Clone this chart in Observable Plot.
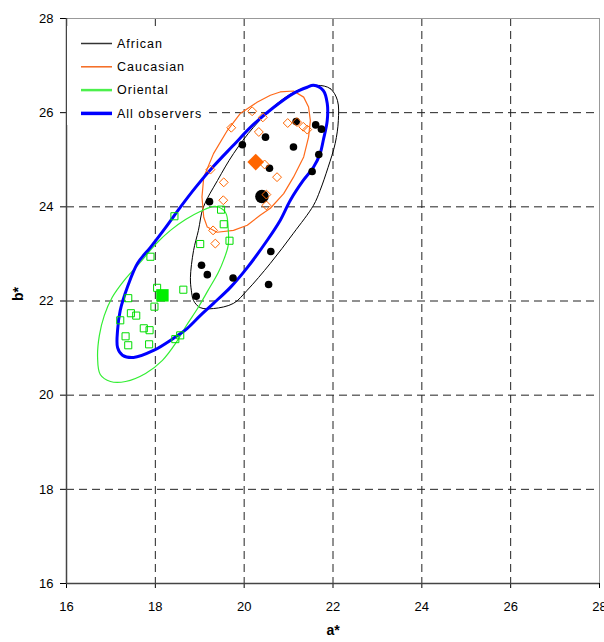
<!DOCTYPE html>
<html><head><meta charset="utf-8">
<script src="https://cdn.jsdelivr.net/npm/d3@7"></script>
<script src="https://cdn.jsdelivr.net/npm/@observablehq/plot@0.6"></script>
<style>body{margin:0;background:#fff} #chart{width:604px;height:642px}</style>
</head><body><div id="chart"></div>
<script>
// Axis ticks
const xTicks = [16, 18, 20, 22, 24, 26, 28];
const yTicks = [16, 18, 20, 22, 24, 26, 28];
const gridXValues = [18, 20, 22, 24, 26];
const gridYValues = [18, 20, 22, 24, 26];

// Individual observers (a*, b*)
const africanA = [21.17, 21.61, 21.74, 20.48, 19.96, 21.11, 21.68, 20.57, 21.53, 19.22, 20.60, 19.04, 19.17, 19.75, 20.55, 18.92];
const africanB = [25.81, 25.74, 25.65, 25.48, 25.32, 25.27, 25.11, 24.82, 24.75, 24.11, 23.05, 22.76, 22.56, 22.49, 22.35, 22.10];
const caucasianA = [20.18, 20.42, 19.71, 20.33, 20.98, 21.19, 21.33, 21.42, 19.24, 19.54, 20.46, 20.74, 20.50, 19.53, 20.50, 19.30, 19.35];
const caucasianB = [26.03, 25.90, 25.68, 25.59, 25.78, 25.80, 25.70, 25.64, 24.79, 24.52, 24.90, 24.63, 24.26, 24.14, 24.03, 23.50, 23.22];
const orientalA = [19.48, 19.54, 19.67, 19.01, 18.63, 18.56, 18.43, 17.89, 18.04, 17.39, 17.98, 17.45, 17.57, 17.21, 17.74, 17.87, 17.33, 17.39, 17.86, 18.45];
const orientalB = [23.94, 23.63, 23.28, 23.21, 22.24, 21.27, 23.80, 22.94, 22.28, 22.06, 21.88, 21.74, 21.69, 21.59, 21.42, 21.38, 21.25, 21.06, 21.08, 21.19];

// Group means
const meanAfrican = {a: 20.40, b: 24.22};
const meanCaucasian = {a: 20.26, b: 24.95};
const meanOriental = {a: 18.16, b: 22.12};

// Ellipse contours
const africanEllA = [21.64, 21.94, 22.10, 22.12, 22.05, 21.89, 21.71, 21.56, 21.11, 20.59, 20.07, 19.76, 19.31, 19.01, 18.86, 18.81, 18.79, 18.86, 18.97, 19.08, 19.40, 19.76, 20.21, 20.75, 21.20];
const africanEllB = [26.58, 26.51, 26.26, 25.83, 25.35, 24.84, 24.35, 24.03, 23.44, 22.80, 22.23, 21.95, 21.84, 21.86, 22.01, 22.23, 22.50, 23.07, 23.50, 23.99, 24.56, 25.13, 25.69, 26.20, 26.47];
const caucasianEllA = [20.81, 21.11, 21.34, 21.45, 21.49, 21.45, 21.34, 21.11, 20.89, 20.59, 20.36, 20.07, 19.76, 19.39, 19.17, 19.09, 19.05, 19.09, 19.31, 19.62, 19.91, 20.29, 20.59];
const caucasianEllB = [26.44, 26.46, 26.33, 26.12, 25.83, 25.48, 25.06, 24.63, 24.28, 23.97, 23.82, 23.61, 23.50, 23.46, 23.57, 23.78, 24.21, 24.63, 25.13, 25.62, 25.98, 26.22, 26.37];
const orientalEllA = [19.35, 19.58, 19.64, 19.64, 19.55, 19.42, 19.19, 18.95, 18.70, 18.47, 18.16, 17.78, 17.33, 16.99, 16.76, 16.70, 16.74, 16.85, 17.03, 17.30, 17.66, 18.00, 18.34, 18.68, 19.01];
const orientalEllB = [24.01, 23.88, 23.54, 23.18, 22.90, 22.61, 22.23, 21.84, 21.48, 21.12, 20.74, 20.46, 20.29, 20.29, 20.44, 20.80, 21.27, 21.69, 22.08, 22.44, 22.82, 23.20, 23.50, 23.73, 23.90];
const allEllA = [21.56, 21.78, 21.87, 21.87, 21.78, 21.71, 21.56, 21.33, 21.04, 20.81, 20.52, 20.07, 19.69, 19.31, 19.01, 18.72, 18.41, 17.96, 17.51, 17.26, 17.15, 17.15, 17.21, 17.37, 17.60, 17.89, 18.23, 18.56, 18.92, 19.31, 19.73, 20.21, 20.66, 21.11, 21.42];
const allEllB = [26.58, 26.47, 26.20, 25.83, 25.41, 25.13, 24.84, 24.56, 24.14, 23.71, 23.29, 22.71, 22.29, 21.95, 21.69, 21.42, 21.21, 20.95, 20.80, 20.85, 21.01, 21.38, 21.80, 22.29, 22.80, 23.14, 23.56, 23.99, 24.43, 24.86, 25.28, 25.75, 26.11, 26.41, 26.54];

const legendLabels = ["African", "Caucasian", "Oriental", "All observers"];
const legendColors = ["#333333", "#f5691e", "#4cf04c", "#0000ff"];
const legendWidths = [1.5, 1.5, 2.5, 3.5];

const table = (as, bs) => as.map((a, i) => ({a, b: bs[i]}));

const african = table(africanA, africanB);
const caucasian = table(caucasianA, caucasianB);
const oriental = table(orientalA, orientalB);

const plot = Plot.plot({
  width: 604,
  height: 642,
  marginLeft: 66,
  marginRight: 5,
  marginTop: 18,
  marginBottom: 59,
  style: {fontFamily: "'Liberation Sans', Arial, sans-serif", fontSize: "13px", color: "#000", background: "#fff", overflow: "visible"},
  x: {domain: [16, 28], ticks: xTicks, tickSize: 5, tickPadding: 13, label: null, tickFormat: d => String(d)},
  y: {domain: [16, 28], ticks: yTicks, tickSize: 6, tickPadding: 7, label: null, tickFormat: d => String(d)},
  marks: [
    Plot.ruleX(gridXValues, {stroke: "#222", strokeWidth: 1, strokeDasharray: "8,5"}),
    Plot.ruleY(gridYValues, {stroke: "#222", strokeWidth: 1, strokeDasharray: "8,5"}),
    Plot.ruleY([28], {stroke: "#999", strokeWidth: 1}),
    Plot.ruleX([28], {stroke: "#999", strokeWidth: 1}),
    Plot.ruleX([16], {stroke: "#444", strokeWidth: 1.5}),
    Plot.ruleY([16], {stroke: "#444", strokeWidth: 1.5}),
    Plot.line(table(africanEllA, africanEllB), {x: "a", y: "b", stroke: "#000", strokeWidth: 1, curve: "catmull-rom-closed"}),
    Plot.line(table(caucasianEllA, caucasianEllB), {x: "a", y: "b", stroke: "#ff6a1a", strokeWidth: 1.2, curve: "linear-closed"}),
    Plot.line(table(orientalEllA, orientalEllB), {x: "a", y: "b", stroke: "#33ee33", strokeWidth: 1.2, curve: "catmull-rom-closed"}),
    Plot.line(table(allEllA, allEllB), {x: "a", y: "b", stroke: "#0000ff", strokeWidth: 3, curve: "catmull-rom-closed"}),
    Plot.dot(african, {x: "a", y: "b", r: 3.8, fill: "#000", stroke: "none"}),
    Plot.dot([meanAfrican], {x: "a", y: "b", r: 6.8, fill: "#000", stroke: "none"}),
    Plot.dot(caucasian, {x: "a", y: "b", r: 4, symbol: "diamond2", fill: "none", stroke: "#ff6600", strokeWidth: 1}),
    Plot.dot([meanCaucasian], {x: "a", y: "b", r: 7.5, symbol: "diamond2", fill: "#ff6600", stroke: "none"}),
    Plot.dot(oriental, {x: "a", y: "b", r: 4, symbol: "square", fill: "none", stroke: "#00dd00", strokeWidth: 1}),
    Plot.dot([meanOriental], {x: "a", y: "b", r: 7, symbol: "square", fill: "#00ee00", stroke: "none"}),
    Plot.text(["a*"], {text: d => d, frameAnchor: "bottom", dy: 51, fontWeight: "bold", fontSize: 14}),
    Plot.text(["b*"], {text: d => d, frameAnchor: "left", dx: -48, rotate: -90, fontWeight: "bold", fontSize: 14})
  ]
});

// Legend inside the plot
const svg = d3.select(plot);
const lg = svg.append("g").attr("text-anchor", "start");
lg.append("rect").attr("x", 67).attr("y", 26).attr("width", 137).attr("height", 99).attr("fill", "#fff").attr("stroke", "none");
legendLabels.forEach((lab, i) => {
  const yy = 43.5 + i * 23.3;
  lg.append("line").attr("x1", 81).attr("x2", 112).attr("y1", yy).attr("y2", yy)
    .attr("stroke", legendColors[i]).attr("stroke-width", legendWidths[i]);
  lg.append("text").attr("x", 117).attr("y", yy).attr("dy", "0.35em")
    .attr("text-anchor", "start")
    .attr("font-family", "'Liberation Sans', Arial, sans-serif").attr("font-size", 12.5)
    .attr("letter-spacing", "1px").attr("fill", "#000").text(lab);
});

document.getElementById("chart").appendChild(plot);
</script>
</body></html>
